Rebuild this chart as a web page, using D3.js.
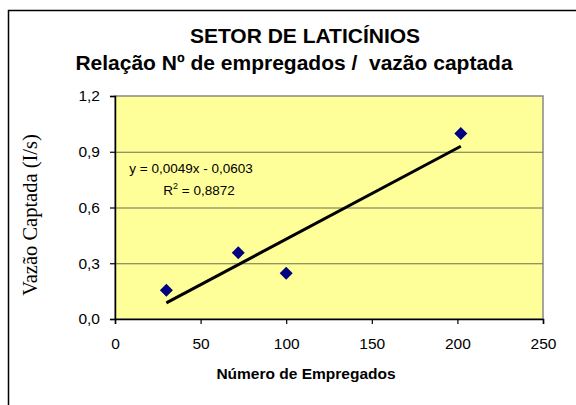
<!DOCTYPE html>
<html>
<head>
<meta charset="utf-8">
<script src="https://cdn.jsdelivr.net/npm/d3@7"></script>
<style>
body { margin: 0; background: #fff; }
svg text { font-family: "Liberation Sans", Arial, sans-serif; }
</style>
</head>
<body>
<div id="chart"></div>
<script>
// data
var empregados = [30, 72, 100, 202];
var vazao = [0.155, 0.357, 0.246, 0.998];
var xTicks = [0, 50, 100, 150, 200, 250];
var yTicks = [0, 0.3, 0.6, 0.9, 1.2];
var trend = {slope: 0.0049, intercept: -0.0603, r2: "0,8872"};

var W = 576, H = 405;
var margin = {top: 96, right: 33, bottom: 86, left: 115},
    width = W - margin.left - margin.right,
    height = H - margin.top - margin.bottom;

var svg = d3.select("#chart").append("svg")
    .attr("width", W)
    .attr("height", H);

// outer chart frame (runs off the right/bottom edge)
svg.append("rect")
    .attr("x", 8.5).attr("y", 10.5)
    .attr("width", 600).attr("height", 420)
    .attr("fill", "#fff")
    .attr("stroke", "#000")
    .attr("stroke-width", 1.5);

var x = d3.scaleLinear().domain([0, 250]).range([0, width]);
var y = d3.scaleLinear().domain([0, 1.2]).range([height, 0]);

var fmt = function(d) { return d3.format(".1f")(d).replace(".", ","); };

var g = svg.append("g")
    .attr("transform", "translate(" + margin.left + "," + margin.top + ")");

g.append("rect")
    .attr("width", width)
    .attr("height", height)
    .attr("fill", "#ffff99")
    .attr("stroke", "#888")
    .attr("stroke-width", 1.5);

// gridlines
g.selectAll(".grid")
    .data(yTicks.slice(1, -1))
    .enter().append("line")
    .attr("class", "grid")
    .attr("x1", 0).attr("x2", width)
    .attr("y1", function(d) { return y(d) + 0.5; })
    .attr("y2", function(d) { return y(d) + 0.5; })
    .attr("stroke", "#6e6e50")
    .attr("stroke-width", 1.2);

var xAxis = g.append("g")
    .attr("transform", "translate(0," + height + ")")
    .call(d3.axisBottom(x).tickValues(xTicks).tickSize(5).tickPadding(14).tickFormat(d3.format("d")));

var yAxis = g.append("g")
    .call(d3.axisLeft(y).tickValues(yTicks).tickSize(5).tickPadding(10).tickFormat(fmt));

[xAxis, yAxis].forEach(function(a) {
    a.select(".domain").attr("stroke", "#000").attr("stroke-width", 1.5);
    a.selectAll(".tick line").attr("stroke", "#000").attr("stroke-width", 1.2);
    a.selectAll(".tick text")
        .attr("fill", "#000")
        .style("font-family", "Liberation Sans, Arial, sans-serif")
        .style("font-size", "15.5px");
});

// trendline
var xs = d3.extent(empregados);
g.append("line")
    .attr("x1", x(xs[0]))
    .attr("y1", y(trend.slope * xs[0] + trend.intercept))
    .attr("x2", x(xs[1]))
    .attr("y2", y(trend.slope * xs[1] + trend.intercept))
    .attr("stroke", "#000")
    .attr("stroke-width", 3);

// markers
var pts = empregados.map(function(d, i) { return {x: d, y: vazao[i]}; });
g.selectAll(".dot")
    .data(pts)
    .enter().append("path")
    .attr("class", "dot")
    .attr("transform", function(d) { return "translate(" + x(d.x) + "," + y(d.y) + ")"; })
    .attr("d", "M0,-6.5L6.5,0L0,6.5L-6.5,0Z")
    .attr("fill", "#000080");

// equation
svg.append("text")
    .attr("x", 191).attr("y", 173)
    .attr("text-anchor", "middle")
    .style("font-size", "13.5px")
    .text("y = 0,0049x - 0,0603");

var r = svg.append("text")
    .attr("x", 199).attr("y", 195)
    .attr("text-anchor", "middle")
    .style("font-size", "13.5px");
r.append("tspan").text("R");
r.append("tspan").attr("dy", -6).style("font-size", "9px").text("2");
r.append("tspan").attr("dy", 6).text(" = 0,8872");

// titles
svg.append("text")
    .attr("x", 305).attr("y", 43)
    .attr("text-anchor", "middle")
    .style("font-size", "21px")
    .style("font-weight", "bold")
    .text("SETOR DE LATICÍNIOS");

svg.append("text")
    .attr("x", 294).attr("y", 70)
    .attr("text-anchor", "middle")
    .style("font-size", "21px")
    .style("font-weight", "bold")
    .text("Relação Nº de empregados /  vazão captada")
    .attr("xml:space", "preserve");

svg.append("text")
    .attr("x", 306).attr("y", 379)
    .attr("text-anchor", "middle")
    .style("font-size", "15.5px")
    .style("font-weight", "bold")
    .text("Número de Empregados");

svg.append("text")
    .attr("transform", "translate(37,215) rotate(-90)")
    .attr("text-anchor", "middle")
    .style("font-family", "Liberation Serif, Times New Roman, serif")
    .style("font-size", "20.5px")
    .text("Vazão Captada (I/s)");
</script>
</body>
</html>
